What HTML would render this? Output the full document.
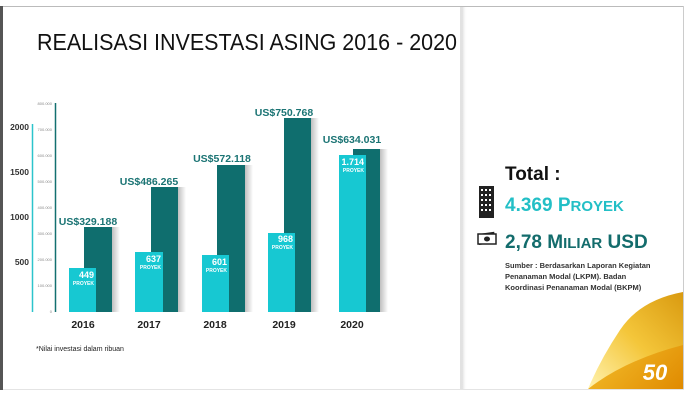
<!DOCTYPE html>
<html><head><meta charset="utf-8"><style>
html,body{margin:0;padding:0;background:#fff;}
svg{display:block;font-family:"Liberation Sans",sans-serif;}
</style></head><body>
<svg width="685" height="400" viewBox="0 0 685 400" xmlns="http://www.w3.org/2000/svg">
<defs>
<linearGradient id="sh" x1="0" x2="1"><stop offset="0" stop-color="#ddd"/><stop offset="1" stop-color="#fff" stop-opacity="0"/></linearGradient>
<linearGradient id="bs" x1="0" x2="1"><stop offset="0" stop-color="#000" stop-opacity="0.25"/><stop offset="1" stop-color="#000" stop-opacity="0"/></linearGradient>
<linearGradient id="gold" x1="0" y1="0" x2="1" y2="1"><stop offset="0" stop-color="#f7d24a"/><stop offset="0.5" stop-color="#eeb020"/><stop offset="1" stop-color="#e08a00"/></linearGradient>
<linearGradient id="gold2" x1="0" y1="1" x2="1" y2="0"><stop offset="0" stop-color="#fff3b0"/><stop offset="0.5" stop-color="#f4c63a"/><stop offset="1" stop-color="#d99a10"/></linearGradient>
</defs>
<rect width="685" height="400" fill="#fff"/>
<rect x="0" y="6" width="3" height="384" fill="#555"/>
<line x1="3" y1="6.5" x2="683" y2="6.5" stroke="#bbb" stroke-width="1"/>
<line x1="683.5" y1="6" x2="683.5" y2="390" stroke="#ccc" stroke-width="1"/>
<line x1="3" y1="389.5" x2="684" y2="389.5" stroke="#e4e4e4" stroke-width="1"/>
<rect x="460" y="7" width="2" height="382" fill="#e2e2e2"/>
<rect x="462" y="7" width="5" height="382" fill="url(#sh)"/>
<text x="37" y="50" font-size="23" fill="#111" textLength="420" lengthAdjust="spacingAndGlyphs">REALISASI INVESTASI ASING 2016 - 2020</text>
<line x1="32.5" y1="124" x2="32.5" y2="312" stroke="#2cc4cc" stroke-width="1.5"/>
<line x1="55.5" y1="103" x2="55.5" y2="312" stroke="#137070" stroke-width="1.5"/>
<g font-size="8.5" font-weight="bold" fill="#333" text-anchor="end">
<text x="29" y="130">2000</text><text x="29" y="175">1500</text><text x="29" y="220">1000</text><text x="29" y="265">500</text>
</g>
<g font-size="4" fill="#888" text-anchor="end">
<text x="52" y="105">800.000</text><text x="52" y="131">700.000</text><text x="52" y="157">600.000</text><text x="52" y="183">500.000</text><text x="52" y="209">400.000</text><text x="52" y="235">300.000</text><text x="52" y="261">200.000</text><text x="52" y="287">100.000</text><text x="52" y="313">0</text>
</g>
<g>
<rect x="112" y="227" width="8" height="85" fill="url(#bs)"/><rect x="84" y="227" width="28" height="85" fill="#0f6e6e"/><rect x="69" y="268" width="27" height="44" fill="#17c8d2"/>
<rect x="178" y="187" width="8" height="125" fill="url(#bs)"/><rect x="151" y="187" width="27" height="125" fill="#0f6e6e"/><rect x="135" y="252" width="28" height="60" fill="#17c8d2"/>
<rect x="245" y="165" width="8" height="147" fill="url(#bs)"/><rect x="217" y="165" width="28" height="147" fill="#0f6e6e"/><rect x="202" y="255" width="27" height="57" fill="#17c8d2"/>
<rect x="311" y="118" width="8" height="194" fill="url(#bs)"/><rect x="284" y="118" width="27" height="194" fill="#0f6e6e"/><rect x="268" y="233" width="27" height="79" fill="#17c8d2"/>
<rect x="380" y="149" width="8" height="163" fill="url(#bs)"/><rect x="353" y="149" width="27" height="163" fill="#0f6e6e"/><rect x="339" y="155" width="27" height="157" fill="#17c8d2"/>
</g>
<g font-size="10.5" font-weight="bold" fill="#1b7474" text-anchor="middle">
<text x="88" y="225">US$329.188</text><text x="149" y="185">US$486.265</text><text x="222" y="162">US$572.118</text><text x="284" y="116">US$750.768</text><text x="352" y="143">US$634.031</text>
</g>
<g fill="#fff" font-weight="bold" text-anchor="end">
<text x="94" y="278" font-size="9">449</text><text x="94" y="285" font-size="5">PROYEK</text>
<text x="161" y="262" font-size="9">637</text><text x="161" y="269" font-size="5">PROYEK</text>
<text x="227" y="265" font-size="9">601</text><text x="227" y="272" font-size="5">PROYEK</text>
<text x="293" y="242" font-size="9">968</text><text x="293" y="249" font-size="5">PROYEK</text>
<text x="364" y="165" font-size="9">1.714</text><text x="364" y="172" font-size="5">PROYEK</text>
</g>
<g font-size="10.5" font-weight="bold" fill="#222" text-anchor="middle">
<text x="83" y="328">2016</text><text x="149" y="328">2017</text><text x="215" y="328">2018</text><text x="284" y="328">2019</text><text x="352" y="328">2020</text>
</g>
<text x="36" y="351" font-size="7" fill="#222">*Nilai investasi dalam ribuan</text>
<text x="505" y="180" font-size="19" font-weight="bold" fill="#111">Total :</text>
<text x="505" y="211" font-size="19" font-weight="bold" fill="#23bfc6">4.369 P<tspan font-size="15">ROYEK</tspan></text>
<text x="505" y="248" font-size="19" font-weight="bold" fill="#136c6c">2,78 M<tspan font-size="15">ILIAR</tspan> USD</text>
<rect x="479" y="186" width="15" height="32" fill="#222"/>
<g fill="#fff">
<rect x="481" y="189" width="2" height="2"/><rect x="485" y="189" width="2" height="2"/><rect x="489" y="189" width="2" height="2"/>
<rect x="481" y="194" width="2" height="2"/><rect x="485" y="194" width="2" height="2"/><rect x="489" y="194" width="2" height="2"/>
<rect x="481" y="199" width="2" height="2"/><rect x="485" y="199" width="2" height="2"/><rect x="489" y="199" width="2" height="2"/>
<rect x="481" y="204" width="2" height="2"/><rect x="485" y="204" width="2" height="2"/><rect x="489" y="204" width="2" height="2"/>
<rect x="481" y="209" width="2" height="2"/><rect x="485" y="209" width="2" height="2"/><rect x="489" y="209" width="2" height="2"/>
</g>
<rect x="478" y="233" width="17" height="11" fill="#222" transform="rotate(-8 486 238)"/>
<rect x="478" y="234" width="18" height="10" fill="#fff" stroke="#222" stroke-width="1.5"/>
<ellipse cx="487" cy="239" rx="3" ry="2.5" fill="#222"/>
<g font-size="7.5" font-weight="bold" fill="#333">
<text x="505" y="268">Sumber : Berdasarkan Laporan Kegiatan</text>
<text x="505" y="279">Penanaman Modal (LKPM). Badan</text>
<text x="505" y="290">Koordinasi Penanaman Modal (BKPM)</text>
</g>
<path d="M683 292 L683 389 L588 389 Z" fill="url(#gold)"/>
<path d="M683 292 Q640 300 620 330 Q600 360 588 389 Q625 360 683 345 Z" fill="url(#gold2)"/>
<text x="655" y="380" font-size="22" font-weight="bold" font-style="italic" fill="#fff" text-anchor="middle">50</text>
</svg>
</body></html>
